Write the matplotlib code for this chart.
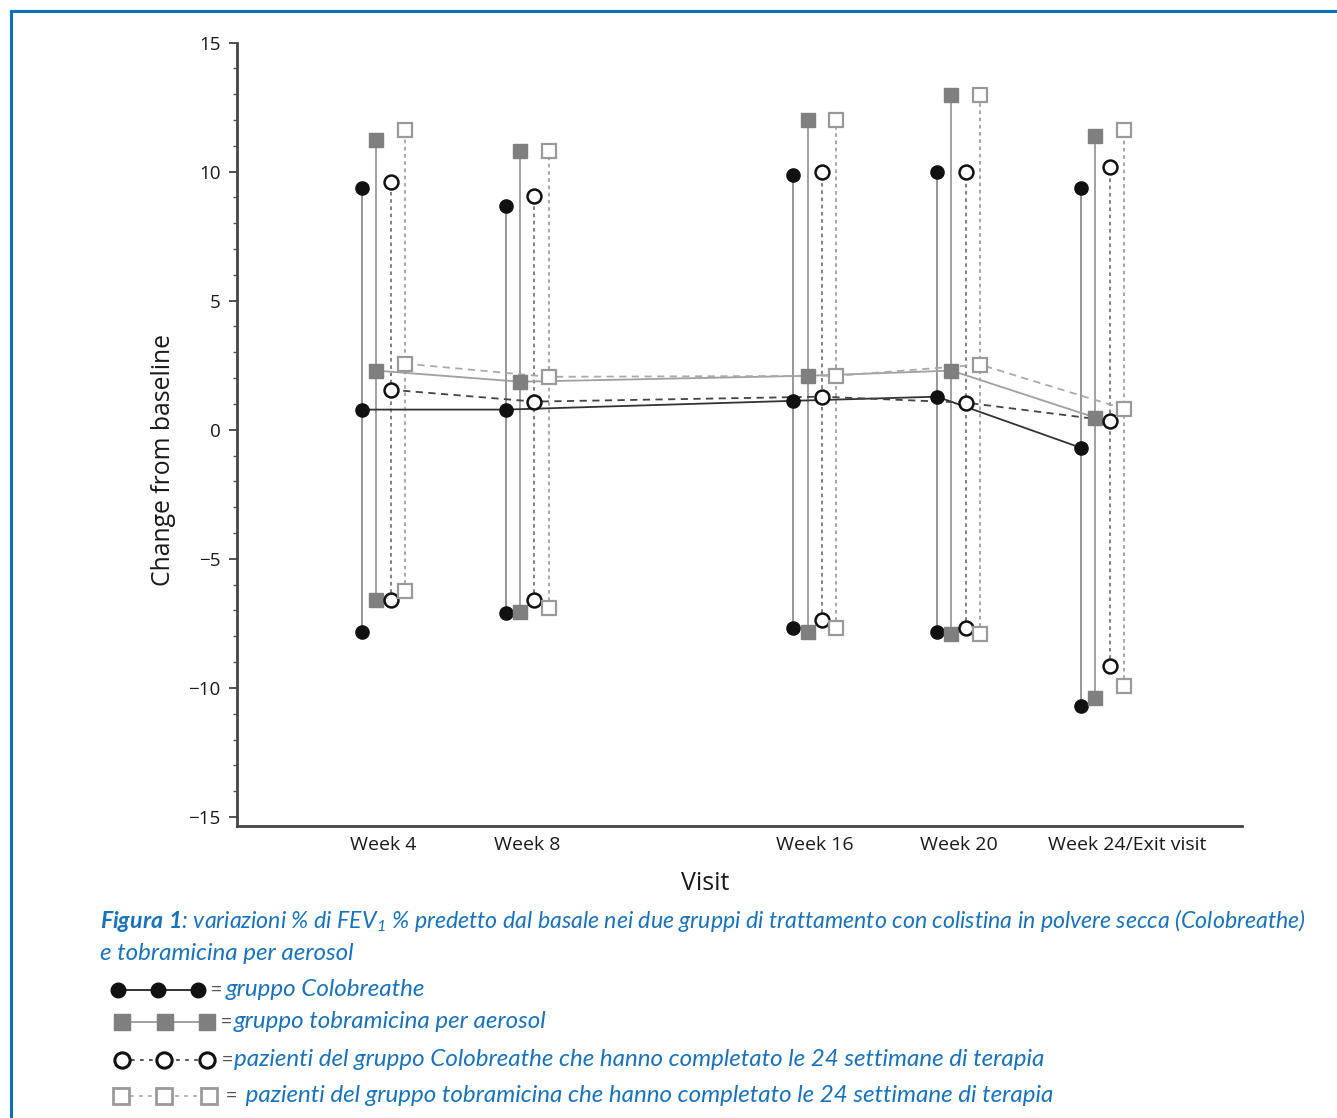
import matplotlib
matplotlib.use("Agg")
import matplotlib.pyplot as plt
from matplotlib.lines import Line2D
from matplotlib.ticker import MultipleLocator
from matplotlib.transforms import ScaledTranslation

plt.rcParams['font.family'] = ['Open Sans', 'DejaVu Sans']
plt.rcParams['mathtext.fontset'] = 'custom'
plt.rcParams['mathtext.rm'] = 'Lato:italic'
plt.rcParams['mathtext.it'] = 'Lato:italic'
plt.rcParams['mathtext.bf'] = 'Lato:italic:bold'

# ---------------- data ----------------
weeks = [4, 8, 16, 20, 24]
visit_labels = ["Week 4", "Week 8", "Week 16", "Week 20", "Week 24/Exit visit"]
y_ticks = [-15, -10, -5, 0, 5, 10, 15]

colo_mean = [0.78, 0.78, 1.12, 1.28, -0.70]
colo_low = [-7.83, -7.09, -7.67, -7.83, -10.70]
colo_high = [9.38, 8.68, 9.88, 10.0, 9.38]

tobra_mean = [2.29, 1.86, 2.09, 2.29, 0.47]
tobra_low = [-6.59, -7.05, -7.83, -7.90, -10.39]
tobra_high = [11.24, 10.78, 11.98, 12.95, 11.36]

colo_c_mean = [1.55, 1.09, 1.28, 1.05, 0.35]
colo_c_low = [-6.59, -6.59, -7.36, -7.67, -9.15]
colo_c_high = [9.60, 9.07, 10.0, 10.0, 10.16]

tobra_c_mean = [2.56, 2.05, 2.09, 2.52, 0.81]
tobra_c_low = [-6.24, -6.90, -7.67, -7.90, -9.92]
tobra_c_high = [11.60, 10.78, 11.98, 12.95, 11.60]

legend_labels = ["gruppo Colobreathe",
                 "gruppo tobramicina per aerosol",
                 "pazienti del gruppo Colobreathe che hanno completato le 24 settimane di terapia",
                 " pazienti del gruppo tobramicina che hanno completato le 24 settimane di terapia"]

# ---------------- figure ----------------
W, H = 1337, 1118
fig = plt.figure(figsize=(W / 100, H / 100), dpi=100)
fig.patch.set_facecolor('white')
ax = fig.add_axes([237 / W, (H - 826) / H, (1242 - 237) / W, (826 - 42.5) / H])

series = [
    dict(mean=colo_mean, low=colo_low, high=colo_high, off=-0.6, marker='o', ms=9.5,
         mfc='#111111', mec='#111111', mew=1.0, lc='#333333', ls='-', vc='#8f8f8f', vls='-'),
    dict(mean=tobra_mean, low=tobra_low, high=tobra_high, off=-0.2, marker='s', ms=9.5,
         mfc='#7f7f7f', mec='#7f7f7f', mew=1.0, lc='#a0a0a0', ls='-', vc='#9a9a9a', vls='-'),
    dict(mean=colo_c_mean, low=colo_c_low, high=colo_c_high, off=0.2, marker='o', ms=10,
         mfc='white', mec='#111111', mew=1.8, lc='#444444', ls=(0, (4, 3)), vc='#777777', vls=(0, (2, 2))),
    dict(mean=tobra_c_mean, low=tobra_c_low, high=tobra_c_high, off=0.6, marker='s', ms=10.5,
         mfc='white', mec='#9a9a9a', mew=1.6, lc='#aaaaaa', ls=(0, (4, 3)), vc='#a0a0a0', vls=(0, (2, 2))),
]

for i, s in enumerate(series):
    xs = [w + s['off'] for w in weeks]
    ax.vlines(xs, s['low'], s['high'], colors=s['vc'], linestyles=s['vls'], lw=1.3, zorder=1)
    ax.plot(xs, s['mean'], color=s['lc'], ls=s['ls'], lw=1.3, zorder=2)
    for vals in (s['low'], s['high'], s['mean']):
        ax.plot(xs, vals, ls='none', marker=s['marker'], ms=s['ms'], mfc=s['mfc'],
                mec=s['mec'], mew=s['mew'], zorder=4 + i)

ax.set_xlim(-0.07, 27.88)
ax.set_ylim(-15.35, 15.0)
ax.set_xticks(weeks)
ax.set_xticklabels(visit_labels)
ax.set_yticks(y_ticks)
ax.yaxis.set_minor_locator(MultipleLocator(1))
for sp in ('top', 'right'):
    ax.spines[sp].set_visible(False)
for sp in ('left', 'bottom'):
    ax.spines[sp].set_linewidth(2)
    ax.spines[sp].set_color('#444444')
ax.tick_params(axis='x', length=0, pad=7, labelsize=14, labelcolor='#1a1a1a')
ax.tick_params(axis='y', which='major', length=6, width=1.3, color='#444444', pad=6,
               labelsize=13.5, labelcolor='#1a1a1a')
ax.tick_params(axis='y', which='minor', length=2.8, width=1.0, color='#555555')
lab = ax.get_xticklabels()[-1]
lab.set_transform(lab.get_transform() + ScaledTranslation(0.25, 0, fig.dpi_scale_trans))

fig.text(163 / W, 1 - 460 / H, "Change from baseline", rotation=90, ha='center', va='center',
         fontsize=17.8, color='#1a1a1a')
fig.text(705 / W, 1 - 884 / H, "Visit", ha='center', va='center', fontsize=18, color='#1a1a1a')

# ---------------- caption ----------------
blue = '#1a72bb'
cap_kw = dict(color=blue, fontsize=17.4, fontstyle='italic', family=['Lato', 'DejaVu Sans'],
              va='center', ha='left')
cap1_kw = dict(cap_kw, fontsize=16.7)
fig.text(100 / W, 1 - 920 / H,
         r"$\mathbf{Figura\ 1}$: variazioni % di FEV$_{\mathregular{1}}$ % predetto dal basale nei due gruppi "
         r"di trattamento con colistina in polvere secca (Colobreathe)", **cap1_kw)
fig.text(100 / W, 1 - 953 / H, "e tobramicina per aerosol", **cap_kw)

# legend rows drawn by hand
rows = [
    dict(y=990, xs=[118, 158, 198], marker='o', ms=10.5, mfc='#111111', mec='#111111', mew=1.0,
         lc='#222222', ls='-', eq=216, tx=226),
    dict(y=1022, xs=[122, 165, 207], marker='s', ms=12, mfc='#7f7f7f', mec='#7f7f7f', mew=1.0,
         lc='#999999', ls='-', eq=226, tx=234),
    dict(y=1060, xs=[122, 164, 207], marker='o', ms=11, mfc='white', mec='#111111', mew=2.2,
         lc='#444444', ls=(0, (2, 3)), eq=227, tx=234),
    dict(y=1096, xs=[121, 164, 209], marker='s', ms=12, mfc='white', mec='#9a9a9a', mew=2.0,
         lc='#aaaaaa', ls=(0, (2, 3)), eq=231, tx=240),
]
for r, text in zip(rows, legend_labels):
    yy = 1 - r['y'] / H
    xx = [v / W for v in r['xs']]
    fig.add_artist(Line2D(xx, [yy] * 3, color=r['lc'], ls=r['ls'], lw=1.3, transform=fig.transFigure))
    fig.add_artist(Line2D(xx, [yy] * 3, ls='none', marker=r['marker'], ms=r['ms'], mfc=r['mfc'],
                          mec=r['mec'], mew=r['mew'], transform=fig.transFigure))
    fig.text(r['eq'] / W, yy, "=", color='#555555', fontsize=14, ha='center', va='center')
    fig.text(r['tx'] / W, yy, text, **cap_kw)

# blue frame
fig.add_artist(Line2D([11 / W, 11 / W, 1.0], [0.0, 1 - 11 / H, 1 - 11 / H], color='#0a72bd',
                      lw=2.2, transform=fig.transFigure, solid_joinstyle='miter'))

fig.savefig("out.png", dpi=100)
